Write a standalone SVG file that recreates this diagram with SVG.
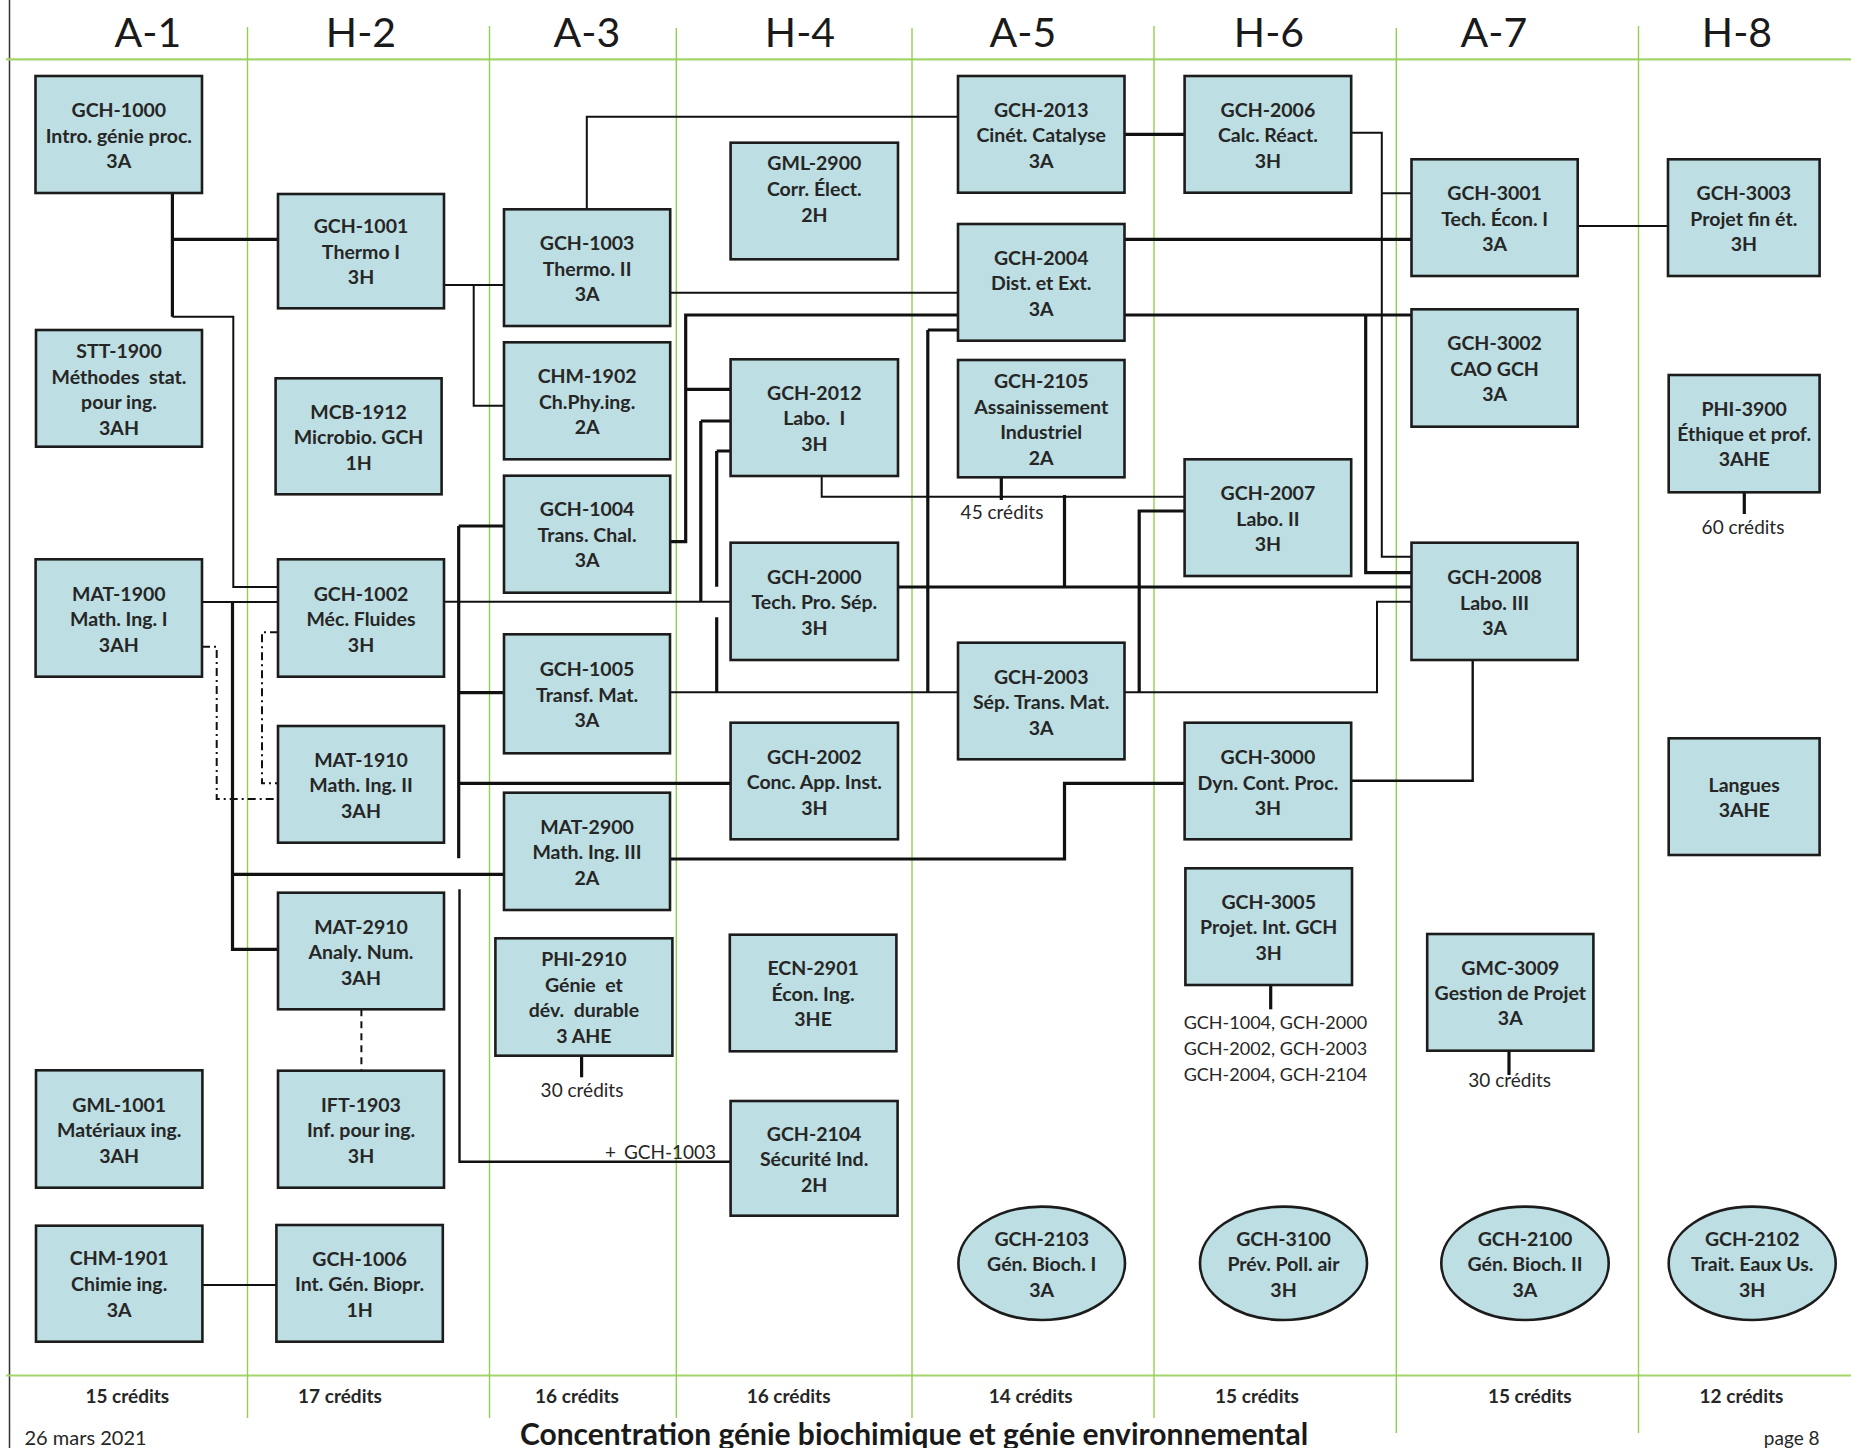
<svg xmlns="http://www.w3.org/2000/svg" width="1851" height="1448" viewBox="0 0 1851 1448">
<style>
.bx{fill:#BDDEE2;stroke:#1c1c1c;stroke-width:2.6}
.t{font-family:Lato,"Liberation Sans",sans-serif;font-weight:bold;font-size:19.5px;fill:#262626;text-anchor:middle}
.hd{font-family:Lato,"Liberation Sans",sans-serif;font-size:41px;fill:#1a1a1a;text-anchor:middle}
.cr{font-family:Lato,"Liberation Sans",sans-serif;font-weight:bold;font-size:19px;fill:#262626;text-anchor:middle}
.an{font-family:Lato,"Liberation Sans",sans-serif;font-size:19px;fill:#262626}
.pr{font-family:Lato,"Liberation Sans",sans-serif;font-size:18px;fill:#262626}
.tk{fill:none;stroke:#111;stroke-width:3.2}
.tn{fill:none;stroke:#111;stroke-width:2}
.dd{fill:none;stroke:#111;stroke-width:2;stroke-dasharray:8,4,2,4}
.ds{fill:none;stroke:#111;stroke-width:2;stroke-dasharray:7,5}
.gv{stroke:#92D050;stroke-width:1.4}
.gh{stroke:#A4D46A;stroke-width:2.2}
</style>
<rect width="1851" height="1448" fill="#fff"/>
<g id="grid">
<line x1="9.5" y1="0" x2="9.5" y2="1448" stroke="#333" stroke-width="1.5"/>
<line class="gh" x1="6" y1="59.3" x2="1851" y2="59.3"/>
<line class="gh" x1="6" y1="1375.5" x2="1851" y2="1375.5"/>
<line class="gv" x1="247.5" y1="27" x2="247.5" y2="1418"/>
<line class="gv" x1="489.5" y1="26" x2="489.5" y2="1418"/>
<line class="gv" x1="676.3" y1="28" x2="676.3" y2="1418"/>
<line class="gv" x1="912" y1="28" x2="912" y2="1418"/>
<line class="gv" x1="1154" y1="26" x2="1154" y2="1418"/>
<line class="gv" x1="1396.3" y1="28" x2="1396.3" y2="1433"/>
<line class="gv" x1="1638.5" y1="26" x2="1638.5" y2="1433"/>
<text class="hd" x="148" y="46.7">A-1</text>
<text class="hd" x="361" y="46.7">H-2</text>
<text class="hd" x="587" y="46.7">A-3</text>
<text class="hd" x="800" y="46.7">H-4</text>
<text class="hd" x="1023" y="46.7">A-5</text>
<text class="hd" x="1269" y="46.7">H-6</text>
<text class="hd" x="1494" y="46.7">A-7</text>
<text class="hd" x="1737" y="46.7">H-8</text>
<text class="cr" x="127.3" y="1402.7">15 crédits</text>
<text class="cr" x="340" y="1402.7">17 crédits</text>
<text class="cr" x="577" y="1402.7">16 crédits</text>
<text class="cr" x="788.6" y="1402.7">16 crédits</text>
<text class="cr" x="1030.7" y="1402.7">14 crédits</text>
<text class="cr" x="1257" y="1402.7">15 crédits</text>
<text class="cr" x="1529.8" y="1402.7">15 crédits</text>
<text class="cr" x="1741.5" y="1402.7">12 crédits</text>
<text class="an" x="24.5" y="1445" style="font-size:20px">26 mars 2021</text>
<text x="914" y="1445" style="font-family:Lato,'Liberation Sans',sans-serif;font-weight:bold;font-size:30px;fill:#1a1a1a;text-anchor:middle">Concentration génie biochimique et génie environnemental</text>
<text class="an" x="1819.6" y="1445" text-anchor="end">page 8</text>
</g>
<g id="connectors">
<path class="tk" d="M172.4,193V316.7M172.4,239.3H278"/>
<path class="tn" d="M172.4,316.7H233.3V587H278"/>
<path class="tn" d="M202,602H278"/>
<path class="tk" d="M232.5,602V949.3H278M232.5,874.3H504"/>
<path class="dd" d="M202,646.7H216.7V799H278"/>
<path class="dd" d="M278,632.3H262V783.3H278"/>
<path class="ds" d="M361.4,1009.3V1070.7"/>
<path class="tn" d="M202.4,1285H276.4"/>
<path class="tn" d="M444,285H504M473.7,285V405.7H504"/>
<path class="tn" d="M586.8,209.3V116.7H958"/>
<path class="tn" d="M670.2,292.7H958"/>
<path class="tk" d="M958,315H685.7V541.7H670.2M685.7,389.3H730.6"/>
<path class="tk" d="M700.8,421H730.6M700.8,421V601.7"/>
<path class="tk" d="M716.7,451H730.6M716.7,451V586.7M716.7,617.3V692.3"/>
<path class="tn" d="M444,601.7H730.6"/>
<path class="tk" d="M458.7,526H504M458.7,526V858.3M458.7,692.7H504M458.7,783.3H730.6"/>
<path class="tn" style="stroke-width:2.4" d="M459.5,889.3V1161.7H730.6"/>
<path class="tn" d="M670,692.3H958"/>
<path class="tk" d="M927.8,330H958M927.8,330V692.3"/>
<path class="tn" d="M821.7,476V496.7H1184.6"/>
<path class="tk" d="M1001.3,477.3V500"/>
<path class="tk" d="M1064.5,495V587"/>
<path class="tk" d="M898,587H1411.5"/>
<path class="tk" d="M1184.6,511H1139.2V692.3"/>
<path class="tn" d="M1124.5,692.3H1377V601.7H1411.5"/>
<path class="tk" d="M670,859H1064.5V783.3H1184.6"/>
<path class="tk" d="M1124.5,134.3H1184.6"/>
<path class="tk" d="M1124.5,239.3H1411.5"/>
<path class="tk" d="M1124.5,315H1411.5M1365.7,315V572.7H1411.5"/>
<path class="tn" d="M1351.2,132.7H1381.8V556.7H1411.5M1381.8,193.3H1411.5"/>
<path class="tn" d="M1577.7,226H1668"/>
<path class="tn" style="stroke-width:2.4" d="M1472.7,660V780.7H1351.2"/>
<path class="tk" d="M1744.3,492.3V514"/>
<path class="tk" d="M581.6,1055.7V1077.3"/>
<path class="tk" d="M1270.7,985V1009.3"/>
<path class="tk" d="M1509,1050.7V1075"/>
<text class="an" x="1002" y="519.3" text-anchor="middle">45 crédits</text>
<text class="an" x="1743" y="534" text-anchor="middle">60 crédits</text>
<text class="an" x="582" y="1096.7" text-anchor="middle">30 crédits</text>
<text class="an" x="1509.7" y="1086.7" text-anchor="middle">30 crédits</text>
<text class="an" x="605" y="1159.3">+ <tspan dx="3">GCH-1003</tspan></text>
<text class="pr" x="1183.7" y="1029.3">GCH-1004, GCH-2000</text>
<text class="pr" x="1183.7" y="1055">GCH-2002, GCH-2003</text>
<text class="pr" x="1183.7" y="1080.5">GCH-2004, GCH-2104</text>
</g>
<g id="GCH-1000"><rect class="bx" x="35.5" y="76" width="166.5" height="117"/><text class="t"><tspan x="118.8" y="117">GCH-1000</tspan><tspan x="118.8" y="142.5">Intro. génie proc.</tspan><tspan x="118.8" y="168">3A</tspan></text></g>
<g id="STT-1900"><rect class="bx" x="36" y="330" width="166" height="116.7"/><text class="t"><tspan x="119" y="357.5">STT-1900</tspan><tspan x="119" y="383.5">Méthodes&#160; stat.</tspan><tspan x="119" y="409">pour ing.</tspan><tspan x="119" y="434.5">3AH</tspan></text></g>
<g id="MAT-1900"><rect class="bx" x="35.6" y="559.3" width="166.4" height="117.4"/><text class="t"><tspan x="118.8" y="600.5">MAT-1900</tspan><tspan x="118.8" y="626">Math. Ing. I</tspan><tspan x="118.8" y="651.5">3AH</tspan></text></g>
<g id="GML-1001"><rect class="bx" x="36" y="1070.3" width="166.4" height="117.4"/><text class="t"><tspan x="119.2" y="1111.5">GML-1001</tspan><tspan x="119.2" y="1137">Matériaux ing.</tspan><tspan x="119.2" y="1162.5">3AH</tspan></text></g>
<g id="CHM-1901"><rect class="bx" x="36" y="1225.7" width="166.4" height="116"/><text class="t"><tspan x="119.2" y="1265">CHM-1901</tspan><tspan x="119.2" y="1291">Chimie ing.</tspan><tspan x="119.2" y="1316.5">3A</tspan></text></g>
<g id="GCH-1001"><rect class="bx" x="278" y="194" width="166" height="114.3"/><text class="t"><tspan x="361" y="233">GCH-1001</tspan><tspan x="361" y="258.5">Thermo I</tspan><tspan x="361" y="284">3H</tspan></text></g>
<g id="MCB-1912"><rect class="bx" x="275.6" y="378.3" width="166" height="116"/><text class="t"><tspan x="358.6" y="418.8">MCB-1912</tspan><tspan x="358.6" y="444.3">Microbio. GCH</tspan><tspan x="358.6" y="469.8">1H</tspan></text></g>
<g id="GCH-1002"><rect class="bx" x="278" y="559.3" width="166" height="117.4"/><text class="t"><tspan x="361" y="600.5">GCH-1002</tspan><tspan x="361" y="626">Méc. Fluides</tspan><tspan x="361" y="651.5">3H</tspan></text></g>
<g id="MAT-1910"><rect class="bx" x="278" y="726" width="166" height="116.7"/><text class="t"><tspan x="361" y="766.8">MAT-1910</tspan><tspan x="361" y="792.3">Math. Ing. II</tspan><tspan x="361" y="817.8">3AH</tspan></text></g>
<g id="MAT-2910"><rect class="bx" x="278" y="892.7" width="166" height="116.6"/><text class="t"><tspan x="361" y="933.5">MAT-2910</tspan><tspan x="361" y="959">Analy. Num.</tspan><tspan x="361" y="984.5">3AH</tspan></text></g>
<g id="IFT-1903"><rect class="bx" x="278" y="1070.7" width="166" height="117"/><text class="t"><tspan x="361" y="1111.5">IFT-1903</tspan><tspan x="361" y="1137">Inf. pour ing.</tspan><tspan x="361" y="1162.5">3H</tspan></text></g>
<g id="GCH-1006"><rect class="bx" x="276.4" y="1225" width="166.4" height="116.7"/><text class="t"><tspan x="359.6" y="1265.5">GCH-1006</tspan><tspan x="359.6" y="1291">Int. Gén. Biopr.</tspan><tspan x="359.6" y="1316.5">1H</tspan></text></g>
<g id="GCH-1003"><rect class="bx" x="504" y="209.3" width="166.2" height="116.7"/><text class="t"><tspan x="587.1" y="250">GCH-1003</tspan><tspan x="587.1" y="275.5">Thermo. II</tspan><tspan x="587.1" y="301">3A</tspan></text></g>
<g id="CHM-1902"><rect class="bx" x="504" y="342.3" width="166.2" height="117"/><text class="t"><tspan x="587.1" y="383.3">CHM-1902</tspan><tspan x="587.1" y="408.8">Ch.Phy.ing.</tspan><tspan x="587.1" y="434.3">2A</tspan></text></g>
<g id="GCH-1004"><rect class="bx" x="504" y="475.7" width="166.2" height="117"/><text class="t"><tspan x="587.1" y="516">GCH-1004</tspan><tspan x="587.1" y="541.5">Trans. Chal.</tspan><tspan x="587.1" y="567">3A</tspan></text></g>
<g id="GCH-1005"><rect class="bx" x="504" y="634.3" width="166" height="119"/><text class="t"><tspan x="587" y="676.3">GCH-1005</tspan><tspan x="587" y="701.8">Transf. Mat.</tspan><tspan x="587" y="727.3">3A</tspan></text></g>
<g id="MAT-2900"><rect class="bx" x="504" y="792.7" width="166" height="117.3"/><text class="t"><tspan x="587" y="833.5">MAT-2900</tspan><tspan x="587" y="859">Math. Ing. III</tspan><tspan x="587" y="884.5">2A</tspan></text></g>
<g id="PHI-2910"><rect class="bx" x="495.4" y="938.3" width="177" height="117.4"/><text class="t"><tspan x="583.9" y="966">PHI-2910</tspan><tspan x="583.9" y="992">Génie&#160; et</tspan><tspan x="583.9" y="1017.3">dév.&#160; durable</tspan><tspan x="583.9" y="1043">3 AHE</tspan></text></g>
<g id="GML-2900"><rect class="bx" x="730.6" y="142.7" width="167.4" height="116.6"/><text class="t"><tspan x="814.3" y="170">GML-2900</tspan><tspan x="814.3" y="196">Corr. Élect.</tspan><tspan x="814.3" y="221.5">2H</tspan></text></g>
<g id="GCH-2012"><rect class="bx" x="730.6" y="359.3" width="167.4" height="116.7"/><text class="t"><tspan x="814.3" y="399.5">GCH-2012</tspan><tspan x="814.3" y="425">Labo.&#160; I</tspan><tspan x="814.3" y="450.5">3H</tspan></text></g>
<g id="GCH-2000"><rect class="bx" x="730.6" y="542.7" width="167.4" height="117.3"/><text class="t"><tspan x="814.3" y="583.5">GCH-2000</tspan><tspan x="814.3" y="609">Tech. Pro. Sép.</tspan><tspan x="814.3" y="634.5">3H</tspan></text></g>
<g id="GCH-2002"><rect class="bx" x="730.6" y="722.7" width="167.4" height="116.6"/><text class="t"><tspan x="814.3" y="763.5">GCH-2002</tspan><tspan x="814.3" y="789">Conc. App. Inst.</tspan><tspan x="814.3" y="814.5">3H</tspan></text></g>
<g id="ECN-2901"><rect class="bx" x="729.8" y="934.7" width="166.6" height="116.6"/><text class="t"><tspan x="813.1" y="975.3">ECN-2901</tspan><tspan x="813.1" y="1000.8">Écon. Ing.</tspan><tspan x="813.1" y="1026.3">3HE</tspan></text></g>
<g id="GCH-2104"><rect class="bx" x="730.6" y="1101" width="167" height="114.7"/><text class="t"><tspan x="814.1" y="1140.5">GCH-2104</tspan><tspan x="814.1" y="1166">Sécurité Ind.</tspan><tspan x="814.1" y="1191.5">2H</tspan></text></g>
<g id="GCH-2013"><rect class="bx" x="958" y="76" width="166.5" height="116.7"/><text class="t"><tspan x="1041.2" y="116.5">GCH-2013</tspan><tspan x="1041.2" y="142">Cinét. Catalyse</tspan><tspan x="1041.2" y="167.5">3A</tspan></text></g>
<g id="GCH-2004"><rect class="bx" x="958" y="224" width="166.5" height="116.7"/><text class="t"><tspan x="1041.2" y="264.5">GCH-2004</tspan><tspan x="1041.2" y="290">Dist. et Ext.</tspan><tspan x="1041.2" y="315.5">3A</tspan></text></g>
<g id="GCH-2105"><rect class="bx" x="958" y="360" width="166.5" height="117.3"/><text class="t"><tspan x="1041.2" y="388">GCH-2105</tspan><tspan x="1041.2" y="413.5">Assainissement</tspan><tspan x="1041.2" y="439">Industriel</tspan><tspan x="1041.2" y="464.5">2A</tspan></text></g>
<g id="GCH-2003"><rect class="bx" x="958" y="642.7" width="166.5" height="116.6"/><text class="t"><tspan x="1041.2" y="683.5">GCH-2003</tspan><tspan x="1041.2" y="709">Sép. Trans. Mat.</tspan><tspan x="1041.2" y="734.5">3A</tspan></text></g>
<g id="GCH-2103"><ellipse class="bx" cx="1041.7" cy="1263.3" rx="83.3" ry="56.7"/><text class="t"><tspan x="1041.7" y="1245.5">GCH-2103</tspan><tspan x="1041.7" y="1271">Gén. Bioch. I</tspan><tspan x="1041.7" y="1296.5">3A</tspan></text></g>
<g id="GCH-2006"><rect class="bx" x="1184.6" y="76" width="166.6" height="116.7"/><text class="t"><tspan x="1267.9" y="116.5">GCH-2006</tspan><tspan x="1267.9" y="142">Calc. Réact.</tspan><tspan x="1267.9" y="167.5">3H</tspan></text></g>
<g id="GCH-2007"><rect class="bx" x="1184.6" y="459.3" width="166.6" height="116.7"/><text class="t"><tspan x="1267.9" y="500">GCH-2007</tspan><tspan x="1267.9" y="525.5">Labo. II</tspan><tspan x="1267.9" y="551">3H</tspan></text></g>
<g id="GCH-3000"><rect class="bx" x="1184.6" y="722.7" width="166.6" height="116.6"/><text class="t"><tspan x="1267.9" y="763.5">GCH-3000</tspan><tspan x="1267.9" y="789.5">Dyn. Cont. Proc.</tspan><tspan x="1267.9" y="814.5">3H</tspan></text></g>
<g id="GCH-3005"><rect class="bx" x="1185.4" y="868.3" width="166.6" height="116.7"/><text class="t"><tspan x="1268.7" y="908.7">GCH-3005</tspan><tspan x="1268.7" y="934.3">Projet. Int. GCH</tspan><tspan x="1268.7" y="960">3H</tspan></text></g>
<g id="GCH-3100"><ellipse class="bx" cx="1283.5" cy="1263.3" rx="83.5" ry="56.7"/><text class="t"><tspan x="1283.5" y="1245.5">GCH-3100</tspan><tspan x="1283.5" y="1271">Prév. Poll. air</tspan><tspan x="1283.5" y="1296.5">3H</tspan></text></g>
<g id="GCH-3001"><rect class="bx" x="1411.5" y="159.3" width="166.2" height="116.7"/><text class="t"><tspan x="1494.6" y="200">GCH-3001</tspan><tspan x="1494.6" y="225.7">Tech. Écon. I</tspan><tspan x="1494.6" y="251">3A</tspan></text></g>
<g id="GCH-3002"><rect class="bx" x="1411.5" y="309.3" width="166.2" height="117.4"/><text class="t"><tspan x="1494.6" y="350.3">GCH-3002</tspan><tspan x="1494.6" y="375.8">CAO GCH</tspan><tspan x="1494.6" y="401">3A</tspan></text></g>
<g id="GCH-2008"><rect class="bx" x="1411.5" y="542.7" width="166.2" height="117.3"/><text class="t"><tspan x="1494.6" y="584">GCH-2008</tspan><tspan x="1494.6" y="609.7">Labo. III</tspan><tspan x="1494.6" y="634.5">3A</tspan></text></g>
<g id="GMC-3009"><rect class="bx" x="1427.2" y="934" width="166.2" height="116.7"/><text class="t"><tspan x="1510.3" y="974.5">GMC-3009</tspan><tspan x="1510.3" y="1000">Gestion de Projet</tspan><tspan x="1510.3" y="1025.3">3A</tspan></text></g>
<g id="GCH-2100"><ellipse class="bx" cx="1525" cy="1263.3" rx="83.7" ry="56.7"/><text class="t"><tspan x="1525" y="1245.5">GCH-2100</tspan><tspan x="1525" y="1271">Gén. Bioch. II</tspan><tspan x="1525" y="1296.5">3A</tspan></text></g>
<g id="GCH-3003"><rect class="bx" x="1668" y="159.3" width="151.6" height="116.7"/><text class="t"><tspan x="1743.8" y="200">GCH-3003</tspan><tspan x="1743.8" y="225.7">Projet fin ét.</tspan><tspan x="1743.8" y="251">3H</tspan></text></g>
<g id="PHI-3900"><rect class="bx" x="1668.7" y="375" width="150.9" height="117.3"/><text class="t"><tspan x="1744.2" y="415.5">PHI-3900</tspan><tspan x="1744.2" y="441">Éthique et prof.</tspan><tspan x="1744.2" y="466.3">3AHE</tspan></text></g>
<g id="Langues"><rect class="bx" x="1668.7" y="738.3" width="150.9" height="116.7"/><text class="t"><tspan x="1744.2" y="791.8">Langues</tspan><tspan x="1744.2" y="817.3">3AHE</tspan></text></g>
<g id="GCH-2102"><ellipse class="bx" cx="1752.2" cy="1263.3" rx="83.5" ry="56.7"/><text class="t"><tspan x="1752.2" y="1245.5">GCH-2102</tspan><tspan x="1752.2" y="1271">Trait. Eaux Us.</tspan><tspan x="1752.2" y="1296.5">3H</tspan></text></g>
</svg>
